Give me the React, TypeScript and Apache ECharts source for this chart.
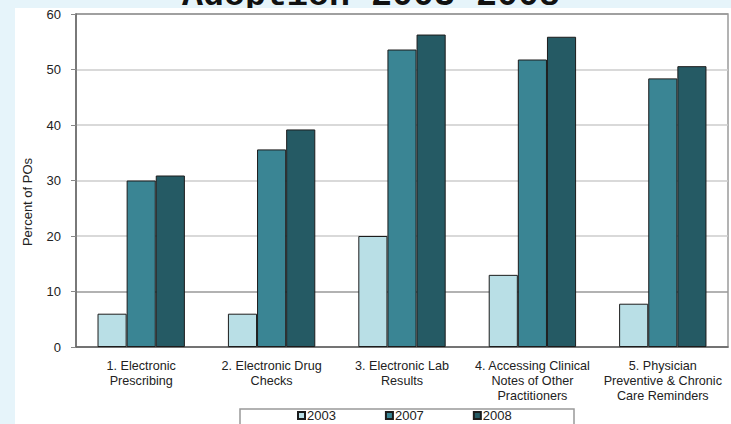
import React, { useEffect, useRef } from "react";
import * as echarts from "echarts";

const categories = [
  "1. Electronic\nPrescribing",
  "2. Electronic Drug\nChecks",
  "3. Electronic Lab\nResults",
  "4. Accessing Clinical\nNotes of Other\nPractitioners",
  "5. Physician\nPreventive & Chronic\nCare Reminders",
];
const years = ["2003", "2007", "2008"];
const values2003 = [6, 6, 20, 13, 7.8];
const values2007 = [30, 35.6, 53.6, 51.8, 48.4];
const values2008 = [30.9, 39.2, 56.3, 55.9, 50.6];
const colors = ["#b9dfe6", "#3a8594", "#255a64"];
const yTicks = { min: 0, max: 60, interval: 10 };

export default function App() {
  const ref = useRef<HTMLDivElement>(null);
  useEffect(() => {
    if (!ref.current) return;
    const chart = echarts.init(ref.current, null, { renderer: "svg" });
    const font = "'Liberation Sans', Arial, sans-serif";
    const seriesData = [values2003, values2007, values2008];
    chart.setOption({
      animation: false,
      backgroundColor: "#e6f4fa",
      textStyle: { fontFamily: font },
      graphic: [
        {
          type: "text",
          z: -3,
          left: 182,
          top: -22,
          style: {
            text: "Adoption 2003-2008",
            font: "bold 35px 'Liberation Mono', 'Courier New', monospace",
            fill: "#111",
          },
        },
        {
          type: "rect",
          z: -2,
          shape: { x: 15, y: 8, width: 731, height: 424 },
          style: { fill: "#ffffff" },
        },
        {
          type: "rect",
          z: -1,
          shape: { x: 240, y: 409, width: 334, height: 30 },
          style: { fill: "#ffffff", stroke: "#999", lineWidth: 1.5 },
        },
        {
          type: "text",
          z: 5,
          x: 27,
          y: 202,
          rotation: Math.PI / 2,
          style: {
            text: "Percent of POs",
            fontSize: 13,
            fontFamily: font,
            fill: "#222",
            align: "center",
            verticalAlign: "middle",
          },
        },
      ],
      grid: {
        left: 76,
        right: 3,
        top: 14,
        bottom: 77,
        show: true,
        borderColor: "#9a9a9a",
        borderWidth: 1.5,
        backgroundColor: "transparent",
      },
      legend: {
        left: 297,
        top: 409,
        padding: 0,
        itemGap: 49,
        itemWidth: 7,
        itemHeight: 7,
        icon: "rect",
        textStyle: { fontSize: 13, color: "#222", fontFamily: font, padding: [0, 0, 0, -3] },
        data: years,
      },
      xAxis: {
        type: "category",
        data: categories,
        axisLine: { lineStyle: { color: "#666", width: 1.5 } },
        axisTick: { show: false },
        axisLabel: {
          fontSize: 12.6,
          lineHeight: 15,
          color: "#222",
          margin: 11,
          interval: 0,
          fontFamily: font,
        },
      },
      yAxis: {
        type: "value",
        min: yTicks.min,
        max: yTicks.max,
        interval: yTicks.interval,
        axisLine: { show: true, lineStyle: { color: "#666", width: 1.5 } },
        axisTick: { show: true, inside: false, length: 5, lineStyle: { color: "#888" } },
        axisLabel: { fontSize: 13, color: "#222", margin: 15, fontFamily: font },
        splitLine: {
          show: true,
          lineStyle: {
            color: ["#999", "#999", "#ccc", "#ccc", "#ccc", "#ccc", "#9a9a9a"],
            width: 1.5,
          },
        },
      },
      series: years.map((y, i) => ({
        name: y,
        type: "bar",
        data: seriesData[i],
        barGap: "0%",
        barCategoryGap: "33%",
        itemStyle: { color: colors[i], borderColor: "#1c1c1c", borderWidth: 1 },
      })),
    });
    return () => chart.dispose();
  }, []);
  return (
    <div
      ref={ref}
      style={{ position: "fixed", left: 0, top: 0, width: 731, height: 424 }}
    />
  );
}
